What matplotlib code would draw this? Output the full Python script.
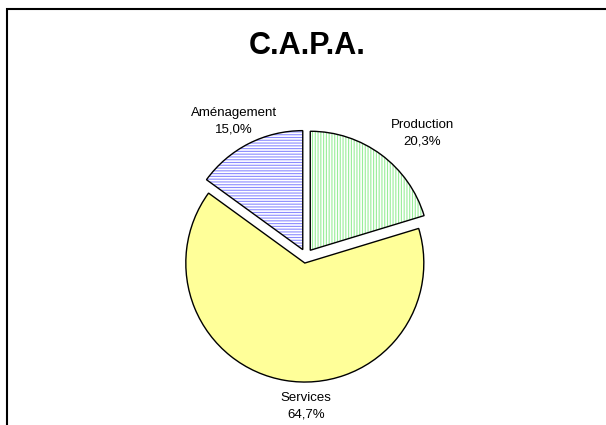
import matplotlib
matplotlib.use("Agg")
import matplotlib.pyplot as plt
from matplotlib.patches import Rectangle

plt.rcParams['font.family'] = ['Liberation Sans', 'DejaVu Sans']
plt.rcParams['hatch.linewidth'] = 0.8

labels = ['Production', 'Services', 'Aménagement']
values = [20.3, 64.7, 15.0]
pct_text = ['20,3%', '64,7%', '15,0%']

W, H = 606, 425
fig = plt.figure(figsize=(W / 100, H / 100), dpi=100)
fig.patch.set_facecolor('white')

# pie centre and radius in pixels
cx, cy, R = 306, 256, 119
side = 3 * R
ax = fig.add_axes([(cx - side / 2) / W, (H - cy - side / 2) / H, side / W, side / H])

explode = [0.06, 0.06, 0.06]
fills = ['white', '#ffff99', 'white']
hatch_cols = ['#99ee99', '#ffff99', '#8c8cff']
hatches = ['||||||', None, '------']

# layer 1: fill + coloured hatch
wedges, _ = ax.pie(values, explode=explode, startangle=90, counterclock=False,
                   radius=1, colors=fills)
for w, hc, h in zip(wedges, hatch_cols, hatches):
    w.set_edgecolor(hc)
    w.set_linewidth(0)
    if h:
        w.set_hatch(h)

# layer 2: black outlines
outl, _ = ax.pie(values, explode=explode, startangle=90, counterclock=False,
                 radius=1, wedgeprops=dict(fill=False, edgecolor='black', linewidth=1.0))

ax.set_xlim(-1.5, 1.5)
ax.set_ylim(-1.5, 1.5)
ax.set_aspect('equal')
ax.axis('off')

# labels
lab_pos = [(422, 133), (306, 406), (234, 121)]
for (px, py), lab, pt in zip(lab_pos, labels, pct_text):
    fig.text(px / W, 1 - py / H, lab + '\n' + pt, ha='center', va='center',
             fontsize=9.5, linespacing=1.45)

fig.text(307 / W, 1 - 46 / H, 'C.A.P.A.', ha='center', va='center',
         fontsize=22, fontweight='bold')

# chart frame (cropped on right and bottom)
fig.patches.append(Rectangle((7 / W, -0.1), 1.2, 1 - 9 / H + 0.1, transform=fig.transFigure,
                             fill=False, edgecolor='black', linewidth=1.5))

fig.savefig('out.png', dpi=100)
